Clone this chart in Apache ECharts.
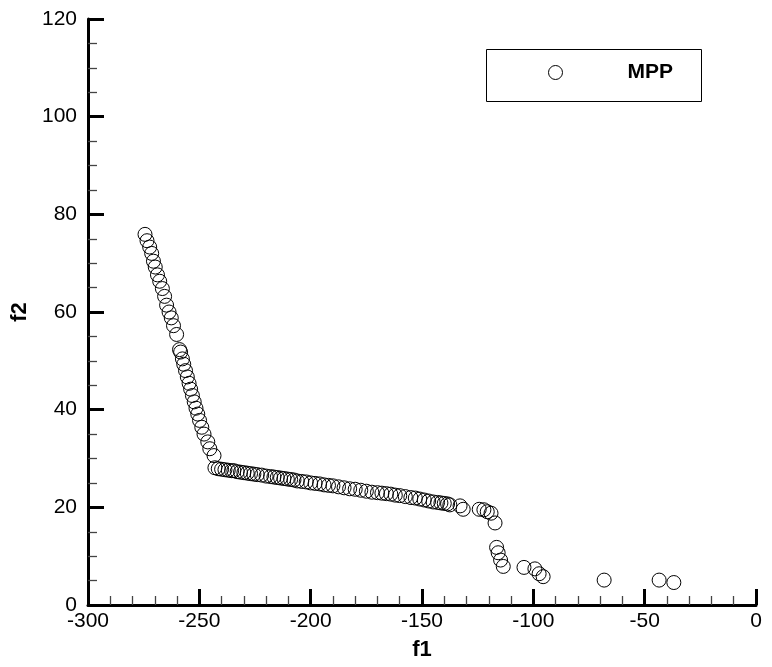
<!DOCTYPE html>
<html>
<head>
<meta charset="utf-8">
<script src="https://cdn.jsdelivr.net/npm/echarts@6/dist/echarts.min.js"></script>
<style>html,body{margin:0;padding:0;background:#fff}#c{width:772px;height:667px}</style>
</head>
<body>
<div id="c"></div>
<script>
// MPP points: f1 values and f2 values
var f1 = [
  -274.4, -273.5, -272.3, -271.4, -270.6, -269.8, -268.8, -267.8, -266.6, -265.6,
  -264.7, -263.6, -262.6, -261.6, -260.2,
  -258.9, -258.4, -257.6, -257.0, -256.2, -255.4, -254.6, -253.9, -253.1, -252.3,
  -251.5, -250.7, -249.9, -248.9, -247.9, -246.2, -245.3, -243.4,
  -243.0, -241.5, -240.0, -238.5, -237.0, -235.5, -234.5, -233.0, -231.5, -230.0,
  -228.5, -227.0, -225.5, -224.0, -222.0, -220.0, -218.0, -216.5, -215.0, -213.5,
  -212.0, -210.5, -209.0, -207.5, -206.0, -204.0, -202.0, -200.0, -198.0, -196.0,
  -194.0, -192.0, -190.0, -187.5, -185.0, -182.5, -180.0, -177.5, -175.0, -172.5,
  -170.0, -168.0, -166.0, -164.0, -162.0, -160.0, -157.5, -155.0, -153.0, -151.0,
  -149.0, -147.0, -145.0, -143.0, -141.5, -140.0, -138.5, -137.5,
  -132.9, -131.5, -124.3, -122.2, -120.7, -119.0, -117.2,
  -116.5, -115.8, -114.7, -113.5,
  -104.2, -99.3, -97.4, -95.6,
  -68.2, -43.5, -36.9
];
var f2 = [
  75.9, 74.6, 73.3, 72.0, 70.4, 69.2, 67.6, 66.3, 64.8, 63.2,
  61.4, 60.0, 58.8, 57.2, 55.4,
  52.3, 51.8, 50.4, 49.3, 48.0, 46.7, 45.4, 44.2, 42.9, 41.6,
  40.3, 39.1, 37.8, 36.4, 35.0, 33.4, 32.0, 30.6,
  28.1, 27.9, 27.8, 27.7, 27.6, 27.5, 27.5, 27.3, 27.2, 27.1,
  27.0, 26.9, 26.8, 26.7, 26.6, 26.4, 26.3, 26.2, 26.1, 26.0,
  25.9, 25.8, 25.7, 25.6, 25.4, 25.3, 25.2, 25.0, 24.9, 24.8,
  24.6, 24.5, 24.4, 24.2, 24.0, 23.8, 23.7, 23.5, 23.3, 23.1,
  23.0, 22.9, 22.8, 22.7, 22.5, 22.4, 22.2, 22.0, 21.9, 21.7,
  21.5, 21.3, 21.1, 21.0, 20.9, 20.8, 20.7, 20.5,
  20.3, 19.6, 19.6, 19.5, 19.1, 18.8, 16.8,
  11.8, 10.7, 9.2, 7.9,
  7.7, 7.4, 6.4, 5.8,
  5.1, 5.1, 4.6
];
var seriesName = 'MPP';
var xAxisName = 'f1';
var yAxisName = 'f2';

var pts = f1.map(function (v, i) { return [v, f2[i]]; });
var font = '"Liberation Sans", Arial, sans-serif';

var chart = echarts.init(document.getElementById('c'), null, {renderer: 'canvas'});
chart.setOption({
  animation: false,
  backgroundColor: '#fff',
  grid: {left: 88, right: 16, top: 19, bottom: 62, containLabel: false},
  xAxis: {
    type: 'value', min: -300, max: 0, interval: 50,
    name: xAxisName, nameLocation: 'middle', nameGap: 34,
    nameTextStyle: {fontFamily: font, fontSize: 22, fontWeight: 'bold', color: '#000'},
    axisLine: {show: true, onZero: false, lineStyle: {color: '#000', width: 3}},
    axisTick: {show: true, inside: true, length: 16, lineStyle: {color: '#000', width: 3}},
    minorTick: {show: true, splitNumber: 5, length: 9, lineStyle: {color: '#444', width: 1.3}},
    axisLabel: {fontFamily: font, fontSize: 21, color: '#000', margin: 6},
    splitLine: {show: false}
  },
  yAxis: {
    type: 'value', min: 0, max: 120, interval: 20,
    name: yAxisName, nameLocation: 'middle', nameGap: 44, nameRotate: 90,
    nameTextStyle: {fontFamily: font, fontSize: 22, fontWeight: 'bold', color: '#000'},
    axisLine: {show: true, onZero: false, lineStyle: {color: '#000', width: 3}},
    axisTick: {show: true, inside: true, length: 16, lineStyle: {color: '#000', width: 3}},
    minorTick: {show: true, splitNumber: 4, length: 9, lineStyle: {color: '#444', width: 1.3}},
    axisLabel: {fontFamily: font, fontSize: 21, color: '#000', margin: 11},
    splitLine: {show: false}
  },
  legend: {
    show: true,
    left: 548, top: 62, padding: 0,
    itemWidth: 14, itemHeight: 14,
    icon: 'circle',
    data: [seriesName],
    textStyle: {fontFamily: font, fontSize: 21, fontWeight: 'bold', color: '#000', padding: [0, 0, 0, 60]},
    itemStyle: {color: 'transparent', borderColor: '#000', borderWidth: 1}
  },
  graphic: [{
    type: 'rect', left: 484, top: 47,
    shape: {width: 215, height: 52},
    style: {fill: 'none', stroke: '#000', lineWidth: 1},
    z: 0
  }],
  series: [{
    name: seriesName,
    type: 'scatter',
    data: pts,
    symbol: 'circle',
    symbolSize: 14,
    itemStyle: {color: 'transparent', borderColor: '#000', borderWidth: 1, opacity: 1},
    emphasis: {disabled: true}
  }]
});
</script>
</body>
</html>
